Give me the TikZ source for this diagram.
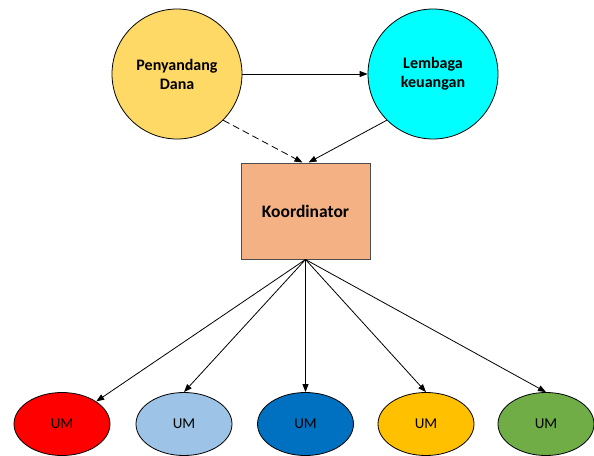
\documentclass[tikz,border=0pt]{standalone}
\usepackage{fontspec}
\setmainfont{Carlito}
\usepackage{xcolor}
\usepackage{tikz}
\usetikzlibrary{
  calc, shapes, arrows.meta, positioning
}

\definecolor{danaYellow}{HTML}{FFD966}
\definecolor{lembagaCyan}{HTML}{00FFFF}
\definecolor{koordSalmon}{HTML}{F4B183}
\definecolor{umRed}{HTML}{FF0000}
\definecolor{umSky}{HTML}{9DC3E6}
\definecolor{umBlue}{HTML}{0070C0}
\definecolor{umGold}{HTML}{FFC000}
\definecolor{umGreen}{HTML}{70AD47}

\begin{document}
\begin{tikzpicture}[x=1pt, y=-1pt,
    bigcirc/.style={circle, draw, line width=0.8pt, minimum size=130pt, inner sep=0pt,
      align=center, font=\fontsize{16}{19}\selectfont\bfseries},
    umnode/.style={ellipse, draw, line width=0.8pt, minimum width=96pt, minimum height=63pt,
      inner sep=0pt, font=\fontsize{15}{18}\selectfont},
    link/.style={line width=0.8pt, -{Triangle[length=8pt,width=6pt]}}]
        \useasboundingbox (0,0) rectangle (594,455);
        \pgfmathsetmacro{\ty}{74}
        \pgfmathsetmacro{\uy}{424}
        \node[bigcirc, fill=danaYellow] (dana) at (177,\ty) {Penyandang\\Dana};
        \node[bigcirc, fill=lembagaCyan] (lembaga) at (433,\ty) {Lembaga\\keuangan};
        \node[draw=black!70, line width=1pt, fill=koordSalmon, minimum width=129pt,
          minimum height=96pt, font=\fontsize{17.5}{20}\selectfont\bfseries] (koord) at (305.5,211) {Koordinator};
        \coordinate (kinL) at ($ (koord.north) + (-3,0) $);
        \coordinate (kinR) at ($ (koord.north) + (3,0) $);
        \node[umnode, fill=umRed] (um1) at (62,\uy) {UM};
        \node[umnode, fill=umSky] (um2) at (184,\uy) {UM};
        \node[umnode, fill=umBlue] (um3) at (305.5,\uy) {UM};
        \node[umnode, fill=umGold] (um4) at (426,\uy) {UM};
        \node[umnode, fill=umGreen] (um5) at (546,\uy) {UM};
        \draw[link] (dana) -- (lembaga);
        \draw[link, dash pattern=on 7pt off 4pt] (dana.south east) -- (kinL);
        \draw[link] (lembaga.south west) -- (kinR);
        \draw[link] (koord.south) -- (um1.north east);
        \draw[link] (koord.south) -- (um2.north);
        \draw[link] (koord.south) -- (um3.north);
        \draw[link] (koord.south) -- (um4.north);
        \draw[link] (koord.south) -- (um5.north);
    \end{tikzpicture}
\end{document}
